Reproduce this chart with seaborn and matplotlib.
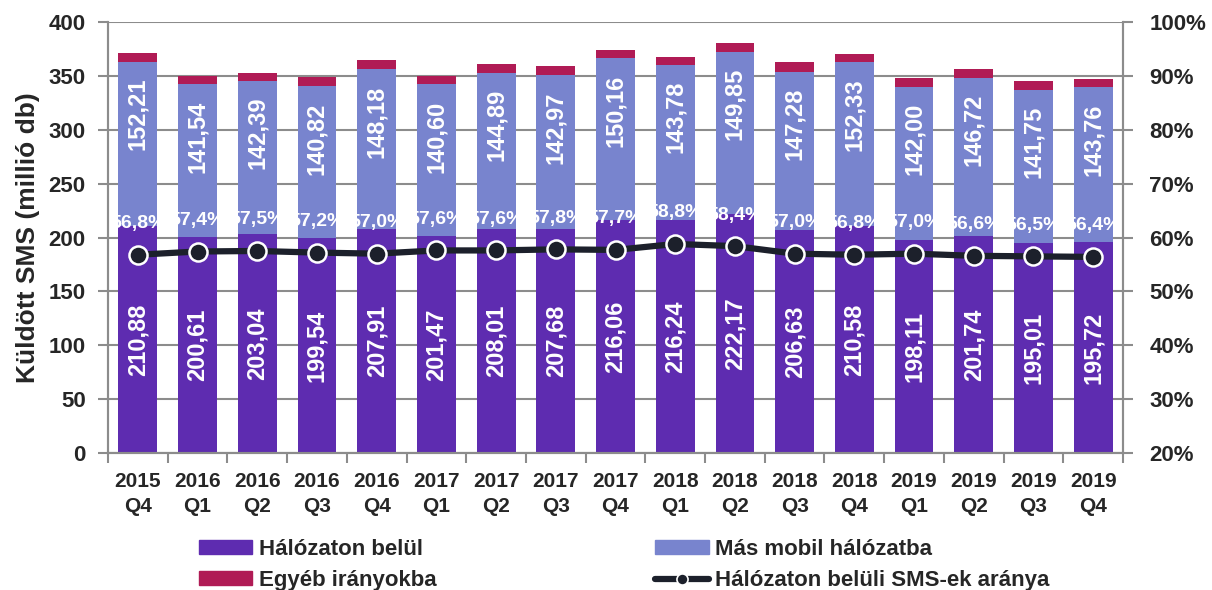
import numpy as np
import pandas as pd
import matplotlib
matplotlib.use("Agg")
import matplotlib.pyplot as plt
import seaborn as sns
from matplotlib.patches import Patch
from matplotlib.lines import Line2D

# ============================================================
# Adatok (leolvasva a diagramról)
# ============================================================
negyedevek = ["2015\nQ4", "2016\nQ1", "2016\nQ2", "2016\nQ3", "2016\nQ4",
              "2017\nQ1", "2017\nQ2", "2017\nQ3", "2017\nQ4",
              "2018\nQ1", "2018\nQ2", "2018\nQ3", "2018\nQ4",
              "2019\nQ1", "2019\nQ2", "2019\nQ3", "2019\nQ4"]
halozaton_belul = [210.88, 200.61, 203.04, 199.54, 207.91, 201.47, 208.01, 207.68, 216.06,
                   216.24, 222.17, 206.63, 210.58, 198.11, 201.74, 195.01, 195.72]
mas_mobil = [152.21, 141.54, 142.39, 140.82, 148.18, 140.60, 144.89, 142.97, 150.16,
             143.78, 149.85, 147.28, 152.33, 142.00, 146.72, 141.75, 143.76]
egyeb = [8.2, 7.3, 7.7, 8.5, 8.7, 7.7, 8.2, 8.7, 8.2, 7.7, 8.4, 8.6, 7.8, 7.5, 8.0, 8.4, 7.5]
arany = [56.8, 57.4, 57.5, 57.2, 57.0, 57.6, 57.6, 57.8, 57.7, 58.8, 58.4, 57.0, 56.8,
         57.0, 56.6, 56.5, 56.4]

LILA = "#5E2CB0"
KEK = "#7884CE"
BORDO = "#B01B55"
VONAL = "#1C202B"
SZURKE = "#8C8C8C"

df = pd.DataFrame({"negyedev": negyedevek,
                   "belul": halozaton_belul,
                   "mas": mas_mobil,
                   "egyeb": egyeb})
df["belul_mas"] = df["belul"] + df["mas"]
df["osszes"] = df["belul_mas"] + df["egyeb"]

sns.set_theme(style="white")
plt.rcParams["font.family"] = ["Liberation Sans", "DejaVu Sans"]
plt.rcParams["font.weight"] = "bold"
plt.rcParams["axes.labelweight"] = "bold"

fig = plt.figure(figsize=(12.12, 5.9), dpi=100)
ax = fig.add_axes([0.0891, 0.2322, 0.8375, 0.7305])

# halmozott oszlopok: a teljes magasságtól lefelé rajzolva
for col, szin in [("osszes", BORDO), ("belul_mas", KEK), ("belul", LILA)]:
    sns.barplot(data=df, x="negyedev", y=col, color=szin, saturation=1,
                width=0.65, errorbar=None, linewidth=0, ax=ax)

ax.set_xlim(-0.5, len(negyedevek) - 0.5)
ax.set_ylim(0, 400)
ax.set_yticks(range(0, 401, 50))
ax.set_xticks(range(len(negyedevek)))
ax.set_xticklabels(negyedevek, linespacing=1.4)
ax.set_xticks(np.arange(-0.5, len(negyedevek), 1), minor=True)
ax.yaxis.grid(True, color=SZURKE, lw=1.5)
ax.set_axisbelow(True)
ax.set_xlabel("")
ax.set_ylabel("Küldött SMS (millió db)", fontsize=19, fontweight="bold", labelpad=6)

for s in ["left", "bottom", "right"]:
    ax.spines[s].set_color(SZURKE)
    ax.spines[s].set_linewidth(1.5)
ax.spines["top"].set_visible(False)

ax.tick_params(axis="y", left=True, length=7, width=1.5, color=SZURKE,
               labelsize=16, pad=9)
ax.tick_params(axis="x", which="major", bottom=True, length=0, labelsize=15, pad=14)
ax.tick_params(axis="x", which="minor", bottom=True, length=7, width=1.5, color=SZURKE)

# értékcímkék
for i in range(len(negyedevek)):
    b = halozaton_belul[i]
    m = mas_mobil[i]
    ax.text(i, b / 2, f"{b:.2f}".replace(".", ","), rotation=90, ha="center",
            va="center", color="white", fontsize=17)
    ax.annotate(f"{m:.2f}".replace(".", ","), (i, b + m), xytext=(0, -16),
                textcoords="offset pixels", rotation=90, ha="center", va="top",
                color="white", fontsize=17)

# arány vonal a jobb tengelyen
ax2 = ax.twinx()
sns.lineplot(x=np.arange(len(arany)), y=arany, ax=ax2, color=VONAL, lw=4.5,
             marker="o", markersize=13, markerfacecolor=VONAL,
             markeredgecolor="white", markeredgewidth=1.8)
ax2.set_ylim(20, 100)
ax2.set_yticks(range(20, 101, 10))
ax2.set_yticklabels([f"{v}%" for v in range(20, 101, 10)])
ax2.tick_params(axis="y", right=True, length=7, width=1.5, color=SZURKE,
                labelsize=16, pad=12)
for s in ["left", "bottom", "right"]:
    ax2.spines[s].set_color(SZURKE)
    ax2.spines[s].set_linewidth(1.5)
ax2.spines["top"].set_visible(False)
ax2.grid(False)

for i, v in enumerate(arany):
    ax2.annotate(f"{v:.1f}%".replace(".", ","), (i, v), xytext=(0, 31),
                 textcoords="offset pixels", ha="center", va="center",
                 color="white", fontsize=14)

# jelmagyarázat
handles = [Patch(color=LILA), Patch(color=BORDO), Patch(color=KEK),
           Line2D([], [], color=VONAL, lw=4.5, marker="o", markersize=8,
                  markerfacecolor=VONAL, markeredgecolor="white", markeredgewidth=1.2)]
labels = ["Hálózaton belül", "Egyéb irányokba", "Más mobil hálózatba",
          "Hálózaton belüli SMS-ek aránya"]
fig.legend(handles, labels, ncol=2, loc="upper left", bbox_to_anchor=(0.155, 0.105),
           frameon=False, fontsize=16, handlelength=2.4, handleheight=0.6,
           handletextpad=0.3, columnspacing=9.85, labelspacing=0.45, borderpad=0)

plt.savefig("out.png", dpi=100)
